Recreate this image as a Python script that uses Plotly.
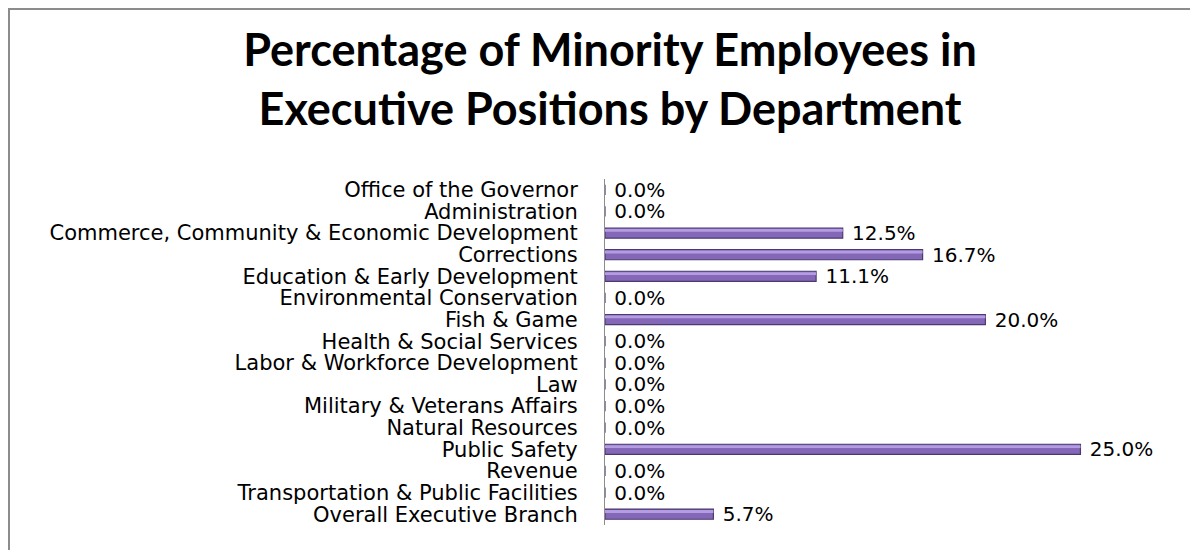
import plotly.graph_objects as go

departments = [
    "Office of the Governor",
    "Administration",
    "Commerce, Community & Economic Development",
    "Corrections",
    "Education & Early Development",
    "Environmental Conservation",
    "Fish & Game",
    "Health & Social Services",
    "Labor & Workforce Development",
    "Law",
    "Military & Veterans Affairs",
    "Natural Resources",
    "Public Safety",
    "Revenue",
    "Transportation & Public Facilities",
    "Overall Executive Branch",
]
minority_pct = [0.0, 0.0, 12.5, 16.7, 11.1, 0.0, 20.0, 0.0, 0.0, 0.0, 0.0, 0.0, 25.0, 0.0, 0.0, 5.7]

LABEL_FONT = "DejaVu Sans"
TITLE_FONT = "Lato"
# the page body keeps its default 8px margin, so the figure is 8px smaller
W, H = 1190, 542
M = dict(l=597, r=70, t=171, b=25)

fig = go.Figure()

# main bar body (dark edge gives the bevelled look)
fig.add_trace(
    go.Bar(
        x=minority_pct,
        y=departments,
        orientation="h",
        width=0.47,
        marker=dict(color="#8467b6", line=dict(color="#4b3a70", width=1.2)),
        texttemplate="\u00a0%{x:.1f}%",
        textposition="outside",
        constraintext="none",
        textfont=dict(family=LABEL_FONT, size=20, color="#000000"),
        cliponaxis=False,
        hoverinfo="skip",
        showlegend=False,
    )
)
# light highlight strip along the top of each bar
fig.add_trace(
    go.Bar(
        x=minority_pct,
        y=departments,
        orientation="h",
        width=0.13,
        offset=-0.19,
        marker=dict(color="#b39ce2", line=dict(width=0)),
        hoverinfo="skip",
        showlegend=False,
    )
)

fig.update_layout(
    width=W,
    height=H,
    margin=M,
    barmode="overlay",
    plot_bgcolor="white",
    paper_bgcolor="white",
    font=dict(family=LABEL_FONT, color="#000000"),
    title=dict(
        text="Percentage of Minority Employees in<br>Executive Positions by Department",
        x=602 / W,
        xanchor="center",
        y=1 - 58 / H,
        yanchor="top",
        font=dict(family=TITLE_FONT, size=45, color="#000000", weight="bold"),
    ),
)

fig.update_xaxes(range=[0, 27.5], visible=False, automargin=False)
fig.update_yaxes(
    autorange="reversed",
    automargin=False,
    showline=True,
    linecolor="#8c8c8c",
    linewidth=1,
    showgrid=False,
    ticks="",
    dtick=1,
    ticklabelstandoff=22,
    tickfont=dict(family=LABEL_FONT, size=21, color="#000000"),
)

# chart-area border (right and bottom sides fall off the picture)
pw = W - M["l"] - M["r"]
ph = H - M["t"] - M["b"]
fig.add_shape(
    type="rect",
    xref="paper",
    yref="paper",
    x0=(1 - M["l"]) / pw,
    x1=(W + 10 - M["l"]) / pw,
    y0=(H - M["b"] - (H + 10)) / ph,
    y1=(H - M["b"] - 1) / ph,
    line=dict(color="#8c8c8c", width=2),
    layer="below",
)

fig.write_html("out.html")
